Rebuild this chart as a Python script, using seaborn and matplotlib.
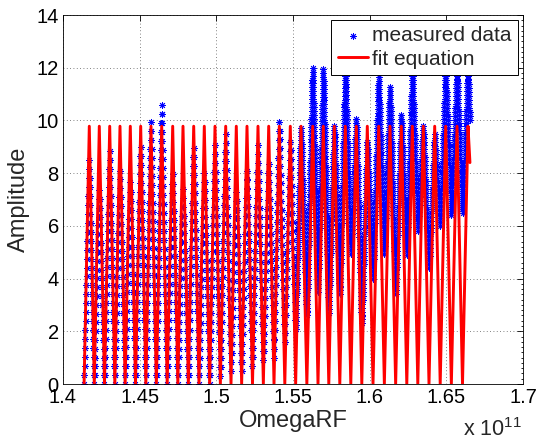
import numpy as np
import pandas as pd
import matplotlib
matplotlib.use("Agg")
import matplotlib.pyplot as plt
from matplotlib.ticker import MultipleLocator, FormatStrFormatter
import seaborn as sns

# ---------------- data (OmegaRF in units of 1e11) ----------------
peak_omega = [1.41715, 1.42367, 1.43046, 1.43717, 1.44389, 1.45067, 1.45739, 1.46437,
              1.47154, 1.47826, 1.48524, 1.49215, 1.49913, 1.50611, 1.51302, 1.52000,
              1.52717, 1.53415, 1.54107, 1.54824, 1.55522, 1.56285, 1.56976, 1.57693,
              1.58411, 1.59128, 1.59846, 1.60590, 1.61326, 1.62063, 1.62780, 1.63498,
              1.64241, 1.64959, 1.65696, 1.66413]
start_omega = 1.41375
end_omega = 1.66540

fit_peak_amp = 9.78
fit_end_amp = 8.4

meas_peak_amp = [8.5, 7.35, 8.85, 8.1, 7.65, 9.0, 9.95, 10.6, 7.95, 7.4, 8.95, 8.0,
                 9.05, 9.5, 7.3, 8.1, 9.05, 8.35, 9.95, 9.2, 9.7, 12.0, 11.95, 9.8,
                 12.0, 10.05, 9.2, 11.65, 11.25, 10.2, 12.0, 9.8, 9.5, 12.0, 12.0, 12.0]
meas_trough_amp = [0.0, 0.0, 0.0, 0.0, 0.0, 0.0, 0.0, 0.0, 0.0, 0.0, 0.0, 0.0,
                   0.3, 0.5, 0.5, 0.7, 0.9, 1.0, 1.6, 2.1, 2.6, 3.5, 2.7, 3.4,
                   4.95, 2.3, 4.0, 4.95, 3.4, 4.9, 5.8, 4.4, 6.0, 6.4, 6.5]
meas_end_amp = 10.0

x_ticks = [1.4, 1.45, 1.5, 1.55, 1.6, 1.65, 1.7]
y_ticks = [0, 2, 4, 6, 8, 10, 12, 14]

# ---------------- build the curves ----------------
troughs = [(a + b) / 2 for a, b in zip(peak_omega[:-1], peak_omega[1:])]

fit_x = [start_omega]
fit_y = [0.0]
meas_vx = [start_omega]
meas_vy = [0.0]
for i, p in enumerate(peak_omega):
    fit_x.append(p); fit_y.append(fit_peak_amp)
    meas_vx.append(p); meas_vy.append(meas_peak_amp[i])
    if i < len(troughs):
        fit_x.append(troughs[i]); fit_y.append(0.0)
        meas_vx.append(troughs[i]); meas_vy.append(meas_trough_amp[i])
fit_x.append(end_omega); fit_y.append(fit_end_amp)
meas_vx.append(end_omega); meas_vy.append(meas_end_amp)

mx, my = [], []
for k in range(len(meas_vx) - 1):
    x0, x1 = meas_vx[k], meas_vx[k + 1]
    y0, y1 = meas_vy[k], meas_vy[k + 1]
    step = 0.34 if x0 < 1.55 else 0.15
    n = max(4, int(round(abs(y1 - y0) / step)))
    t = np.arange(n) / n
    mx.extend(x0 + (x1 - x0) * t)
    my.extend(y0 + (y1 - y0) * t)
mx.append(meas_vx[-1]); my.append(meas_vy[-1])

meas_df = pd.DataFrame({"omega": mx, "amp": my})
fit_df = pd.DataFrame({"omega": fit_x, "amp": fit_y})

# ---------------- plot ----------------
sns.set_theme(style="white")
plt.rcParams["font.family"] = ["Liberation Sans", "DejaVu Sans"]
plt.rcParams["mathtext.default"] = "regular"

fig = plt.figure(figsize=(5.4, 4.4), dpi=100)
ax = fig.add_axes([63 / 540, 1 - 384 / 440, 460 / 540, 369 / 440])

sns.scatterplot(data=meas_df, x="omega", y="amp", ax=ax, marker=(8, 2, 0),
                s=20, color="#0000ff", linewidth=0.65, label="measured data",
                zorder=2)
sns.lineplot(data=fit_df, x="omega", y="amp", ax=ax, sort=False, estimator=None,
             color="#ff0000", linewidth=2.1, label="fit equation", zorder=3)

ax.set_xlim(1.4, 1.7)
ax.set_ylim(0, 14)
ax.set_xticks(x_ticks)
ax.set_yticks(y_ticks)
ax.xaxis.set_major_formatter(FormatStrFormatter("%g"))
ax.yaxis.set_minor_locator(MultipleLocator(0.2))
ax.tick_params(which="both", direction="in", top=True, right=True,
               labelsize=14.5, colors="black", width=0.6)
ax.tick_params(which="major", length=4)
ax.tick_params(axis="y", which="major", pad=3)
ax.tick_params(axis="x", which="major", pad=3)
ax.tick_params(which="minor", length=1.8)
ax.grid(True, which="major", linestyle=(0, (1, 3)), color="0.35", linewidth=0.6)
for s in ax.spines.values():
    s.set_color("black")
    s.set_linewidth(0.6)

ax.set_xlabel("OmegaRF", fontsize=17)
ax.set_ylabel("Amplitude", fontsize=17)
ax.xaxis.set_label_coords(0.5, -0.07)
ax.yaxis.set_label_coords(-0.072, 0.5)

fig.text(522 / 540, 1 - 436 / 440, "x 10$^{11}$", ha="right", va="baseline",
         fontsize=15.5)

leg = ax.legend(loc="upper right", frameon=True, fancybox=False, edgecolor="black",
                framealpha=1, fontsize=15, borderpad=0.3, handlelength=1.45,
                handletextpad=0.2, labelspacing=0.2, borderaxespad=0.25)
leg.get_frame().set_linewidth(0.7)

fig.savefig("out.png", dpi=100)
